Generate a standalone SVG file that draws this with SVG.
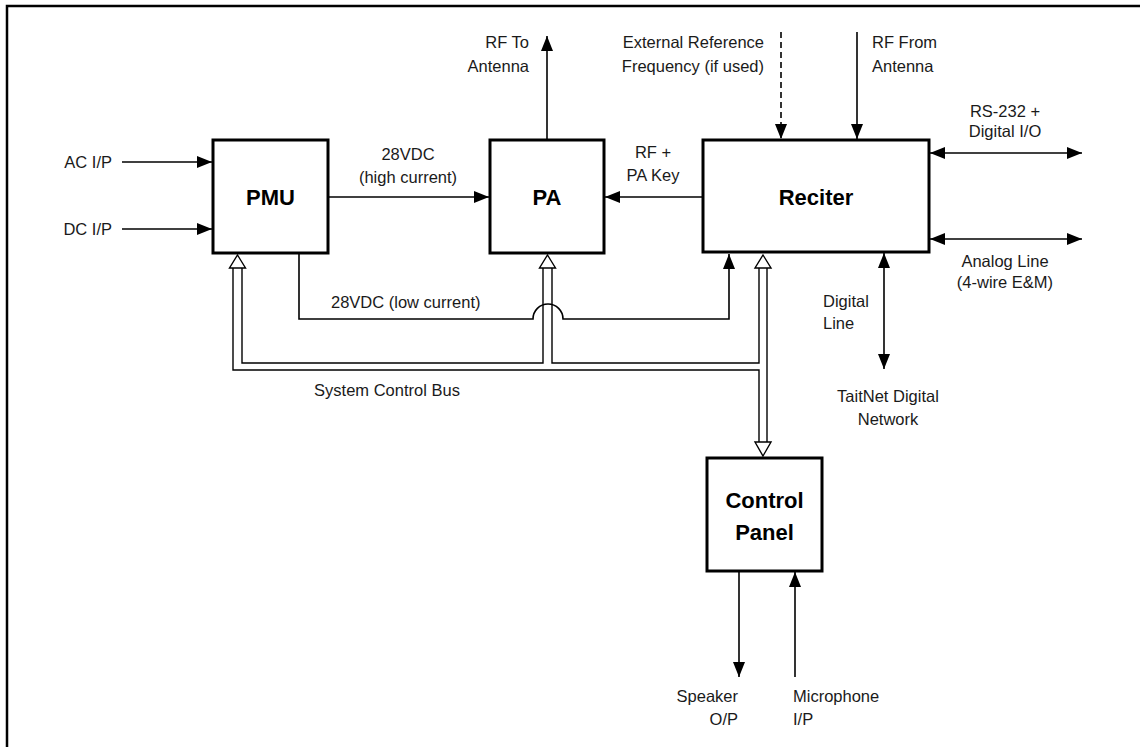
<svg xmlns="http://www.w3.org/2000/svg" width="1140" height="747" viewBox="0 0 1140 747">
<style>
  .box{fill:#fff;stroke:#000;stroke-width:3}
  .ln{fill:none;stroke:#000;stroke-width:1.6}
  .pipe{fill:none;stroke:#000;stroke-width:1.4}
  .hh{fill:#fff;stroke:#000;stroke-width:1.4;stroke-linejoin:miter}
  .t{font-family:"Liberation Sans",Arial,sans-serif;font-size:16.5px;fill:#1a1a1a}
  .b{font-family:"Liberation Sans",Arial,sans-serif;font-size:22px;font-weight:bold;fill:#000}
  .m{text-anchor:middle}
  .e{text-anchor:end}
</style>
<defs>
  <marker id="ah" markerUnits="userSpaceOnUse" markerWidth="15" markerHeight="12" viewBox="0 0 15 12" refX="15" refY="6" orient="auto-start-reverse">
    <path d="M0,0 L15,6 L0,12 z" fill="#000"/>
  </marker>
</defs>
<rect width="1140" height="747" fill="#fff"/>
<path d="M7,747 V6 H1140" fill="none" stroke="#000" stroke-width="2.5"/>

<g id="connectors">
  <line class="ln" x1="122" y1="162" x2="212" y2="162" marker-end="url(#ah)"/>
  <line class="ln" x1="122" y1="229" x2="212" y2="229" marker-end="url(#ah)"/>
  <line class="ln" x1="328" y1="197" x2="489" y2="197" marker-end="url(#ah)"/>
  <line class="ln" x1="703" y1="197" x2="605" y2="197" marker-end="url(#ah)"/>
  <line class="ln" x1="547" y1="140" x2="547" y2="36" marker-end="url(#ah)"/>
  <line class="ln" x1="781" y1="32" x2="781" y2="139" stroke-dasharray="6,4" marker-end="url(#ah)"/>
  <line class="ln" x1="857" y1="32" x2="857" y2="139" marker-end="url(#ah)"/>
  <line class="ln" x1="930" y1="153" x2="1082" y2="153" marker-start="url(#ah)" marker-end="url(#ah)"/>
  <line class="ln" x1="930" y1="239" x2="1082" y2="239" marker-start="url(#ah)" marker-end="url(#ah)"/>
  <line class="ln" x1="884" y1="253" x2="884" y2="369" marker-start="url(#ah)" marker-end="url(#ah)"/>
  <path class="ln" d="M299,253 V319 H533 A15,15 0 0 1 563,319 H729 V254" marker-end="url(#ah)"/>
  <line class="ln" x1="739" y1="571" x2="739" y2="677" marker-end="url(#ah)"/>
  <line class="ln" x1="795" y1="677" x2="795" y2="572" marker-end="url(#ah)"/>

  <path class="pipe" d="M233,268 V370 H759 V442"/>
  <path class="pipe" d="M242,268 V363 H543 V268"/>
  <path class="pipe" d="M552,268 V363 H759 V268"/>
  <path class="pipe" d="M767,268 V442"/>
  <path class="hh" d="M237.5,255 L245.5,268 L229.5,268 z"/>
  <path class="hh" d="M547.5,255 L555.5,268 L539.5,268 z"/>
  <path class="hh" d="M763,255 L771,268 L755,268 z"/>
  <path class="hh" d="M763,456 L771,442 L755,442 z"/>
</g>

<g id="pmu">
  <rect class="box" x="213" y="140" width="115" height="113"/>
  <text class="b m" x="270.5" y="205">PMU</text>
</g>
<g id="pa">
  <rect class="box" x="490" y="140" width="114" height="113"/>
  <text class="b m" x="547" y="205">PA</text>
</g>
<g id="reciter">
  <rect class="box" x="703" y="140" width="226" height="112"/>
  <text class="b m" x="816" y="205">Reciter</text>
</g>
<g id="control-panel">
  <rect class="box" x="707" y="458" width="115" height="113"/>
  <text class="b m" x="764.5" y="508">Control</text>
  <text class="b m" x="764.5" y="540">Panel</text>
</g>

<g id="labels">
  <text class="t e" x="112" y="168">AC I/P</text>
  <text class="t e" x="112" y="235">DC I/P</text>
  <text class="t m" x="408" y="160">28VDC</text>
  <text class="t m" x="408" y="183">(high current)</text>
  <text class="t m" x="653" y="158">RF +</text>
  <text class="t m" x="653" y="181">PA Key</text>
  <text class="t e" x="529" y="48">RF To</text>
  <text class="t e" x="529" y="72">Antenna</text>
  <text class="t e" x="764" y="48">External Reference</text>
  <text class="t e" x="764" y="72">Frequency (if used)</text>
  <text class="t" x="872" y="48">RF From</text>
  <text class="t" x="872" y="72">Antenna</text>
  <text class="t m" x="1005" y="117">RS-232 +</text>
  <text class="t m" x="1005" y="137">Digital I/O</text>
  <text class="t m" x="1005" y="267">Analog Line</text>
  <text class="t m" x="1005" y="288">(4-wire E&amp;M)</text>
  <text class="t" x="823" y="307">Digital</text>
  <text class="t" x="823" y="329">Line</text>
  <text class="t m" x="888" y="402">TaitNet Digital</text>
  <text class="t m" x="888" y="425">Network</text>
  <text class="t" x="331" y="308">28VDC (low current)</text>
  <text class="t m" x="387" y="396">System Control Bus</text>
  <text class="t e" x="738" y="702">Speaker</text>
  <text class="t e" x="738" y="725">O/P</text>
  <text class="t" x="793" y="702">Microphone</text>
  <text class="t" x="793" y="725">I/P</text>
</g>
</svg>
